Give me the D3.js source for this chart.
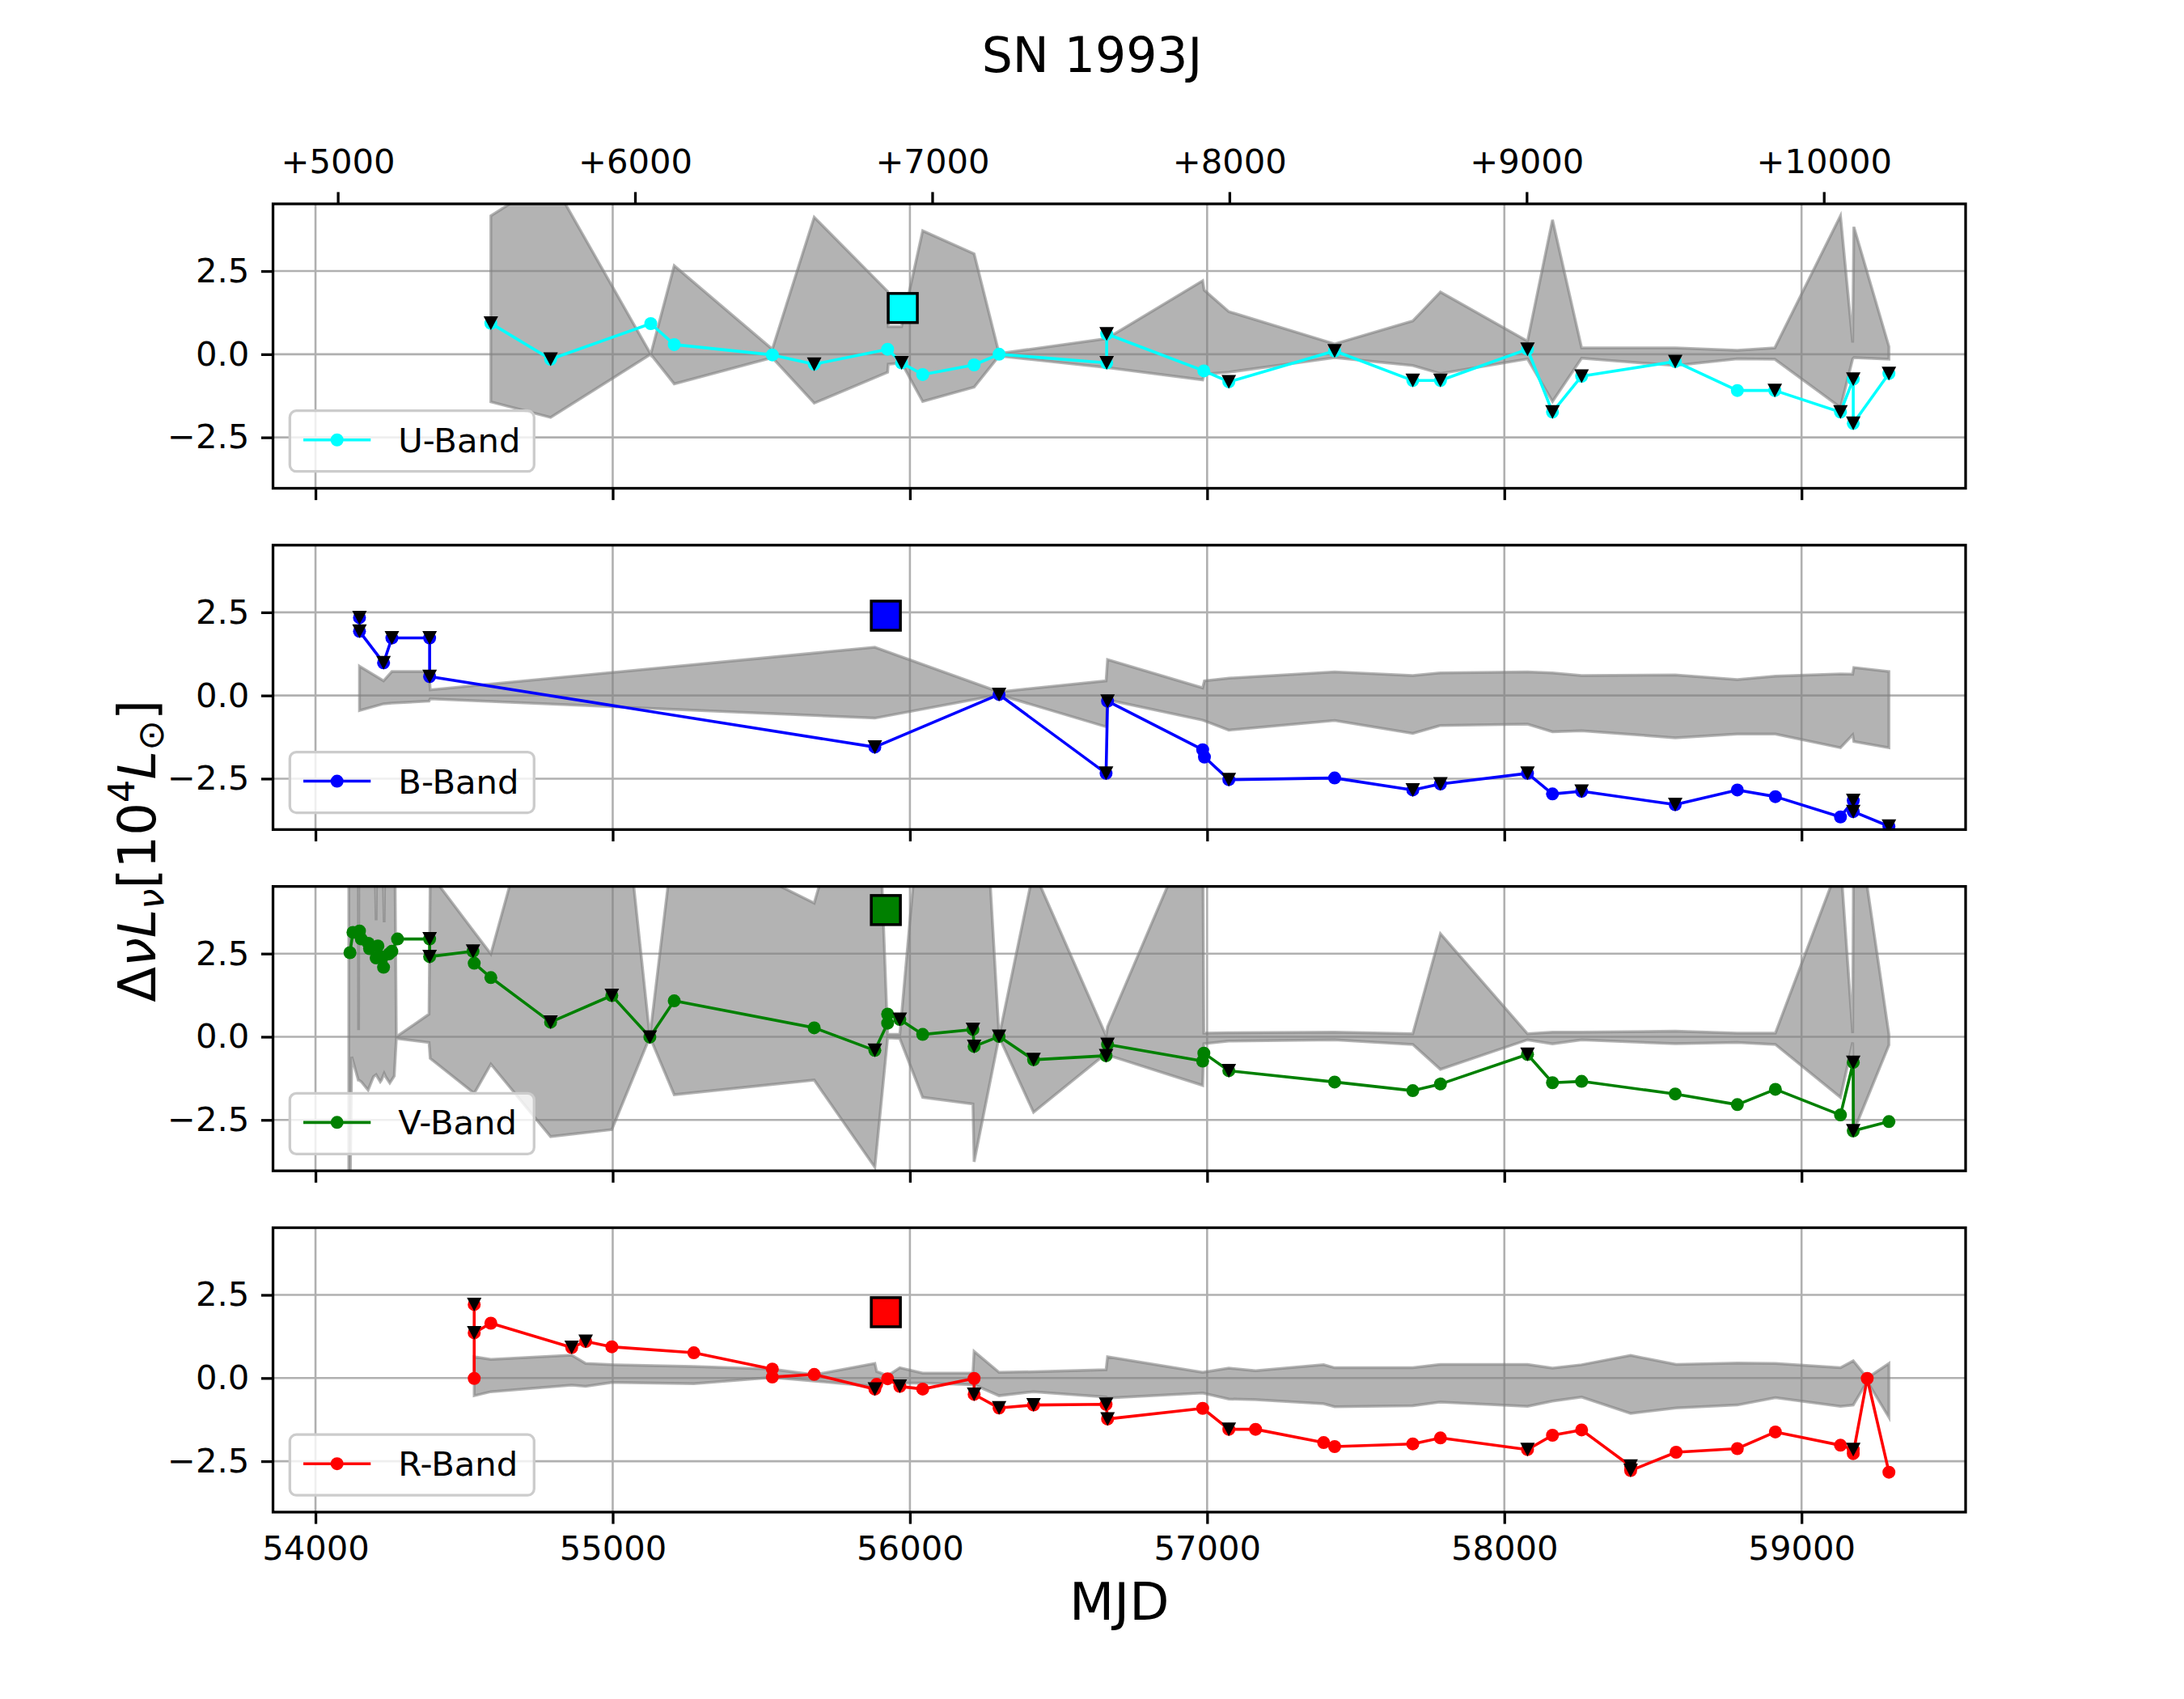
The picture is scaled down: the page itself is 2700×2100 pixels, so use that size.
<!DOCTYPE html>
<html><head><meta charset="utf-8">
<script src="https://cdn.jsdelivr.net/npm/d3@7"></script>
<style>body{margin:0;background:#fff}svg{display:block}text{font-family:"DejaVu Sans",sans-serif}</style>
</head><body>
<svg id="c" width="2700" height="2100"></svg>
<script>
// ---------------- data ----------------
const chartTitle = "SN 1993J";
const xLabel = "MJD";
const explosionMJD = 49075;
const xTickValues = [54000,55000,56000,57000,58000,59000];
const topTickValues = [5000,6000,7000,8000,9000,10000];
const yTickValues = [-2.5,0,2.5];
const xDomain = [53857,59552];
const yDomain = [-4.03,4.52];

const bandNames = ["U-Band","B-Band","V-Band","R-Band"];
const bandColors = ["#00ffff","#0000ff","#008000","#ff0000"];

const uMJD = [54590,54791,55128,55207,55537,55678,55925,55972,56043,56216,56300,56662,56662,56989,57073,57429,57692,57785,58078,58162,58260,58575,58784,58910,59131,59174,59174,59294];
const uVal = [0.93,-0.15,0.92,0.29,-0.02,-0.30,0.15,-0.26,-0.61,-0.32,0.00,-0.26,0.61,-0.50,-0.83,0.10,-0.79,-0.79,0.15,-1.74,-0.66,-0.22,-1.09,-1.09,-1.74,-0.75,-2.08,-0.58];
const uLim = [1,1,0,0,0,1,0,1,0,0,0,1,1,0,1,1,1,1,1,1,1,1,0,1,1,1,1,1];
const uBandMJD = [54590,54791,55128,55207,55537,55678,55925,55927,55972,56043,56216,56300,56662,56985,56990,57073,57429,57692,57785,58078,58162,58260,58575,58784,58910,59131,59172,59176,59294];
const uBandLo = [-1.43,-1.90,0,-0.89,-0.10,-1.47,-0.54,-0.30,-0.26,-1.42,-0.99,-0.05,-0.40,-0.77,-0.60,-0.54,-0.10,-0.34,-0.58,-0.14,-1.42,-0.12,-0.34,-0.14,-0.15,-1.60,-0.14,-0.10,-0.15];
const uBandHi = [4.16,5.30,0,2.66,0.15,4.12,1.89,0.83,0.83,3.71,3.02,0.02,0.47,2.21,1.93,1.28,0.31,1.00,1.87,0.39,4.04,0.19,0.19,0.12,0.19,4.16,0.35,3.83,0.23];

const bMJD = [54148,54148,54229,54257,54384,54384,55882,56300,56660,56665,56985,56991,57073,57429,57692,57785,58078,58162,58260,58575,58784,58912,59131,59174,59174,59294];
const bVal = [2.34,1.93,0.98,1.73,1.73,0.57,-1.55,0.03,-2.34,-0.17,-1.63,-1.85,-2.53,-2.48,-2.84,-2.66,-2.34,-2.96,-2.88,-3.28,-2.84,-3.04,-3.65,-3.16,-3.49,-3.93];
const bLim = [1,1,1,1,1,1,1,1,1,1,0,0,1,0,1,1,1,0,1,1,0,0,0,1,1,1];
const bBandMJD = [54148,54229,54257,54382,54386,55882,56300,56660,56665,56985,56991,57073,57429,57692,57785,58078,58162,58260,58575,58784,58912,59131,59172,59176,59294];
const bBandLo = [-0.45,-0.25,-0.23,-0.17,-0.10,-0.68,0.02,-0.94,-0.13,-0.74,-0.76,-1.04,-0.75,-1.14,-0.90,-0.86,-1.09,-1.06,-1.27,-1.16,-1.16,-1.57,-1.18,-1.38,-1.57];
const bBandHi = [0.88,0.44,0.72,0.72,0.17,1.45,0.11,0.44,1.08,0.23,0.44,0.52,0.71,0.60,0.68,0.71,0.68,0.60,0.62,0.48,0.58,0.65,0.64,0.84,0.72];

const vMJD = [54116,54126,54148,54154,54178,54182,54204,54210,54219,54229,54247,54257,54276,54384,54384,54530,54534,54590,54791,54997,55125,55207,55678,55882,55925,55925,55966,56043,56212,56216,56300,56416,56660,56665,56985,56989,57073,57429,57692,57785,58078,58162,58260,58575,58784,58912,59131,59174,59174,59294];
const vVal = [2.53,3.14,3.18,2.94,2.81,2.65,2.37,2.73,2.41,2.09,2.49,2.57,2.94,2.94,2.41,2.57,2.21,1.78,0.44,1.24,-0.01,1.08,0.27,-0.41,0.41,0.68,0.52,0.07,0.22,-0.29,0.01,-0.69,-0.57,-0.23,-0.73,-0.49,-1.02,-1.36,-1.62,-1.42,-0.53,-1.38,-1.34,-1.72,-2.04,-1.58,-2.35,-0.77,-2.83,-2.55];
const vLim = [0,0,0,0,0,0,0,0,0,0,0,0,0,1,1,1,0,0,1,1,1,0,0,1,0,0,1,0,1,1,1,1,1,1,0,0,1,0,0,0,1,0,0,0,0,0,0,1,1,0];
const vBandMJD = [54112,54122,54144,54145,54146,54154,54177,54195,54204,54208,54218,54222,54231,54236,54250,54265,54272,54382,54386,54534,54590,54791,54997,55125,55207,55678,55882,55925,55966,56043,56212,56216,56300,56416,56660,56665,56985,56989,57073,57429,57692,57785,58078,58162,58260,58575,58784,58912,59131,59172,59176,59294];
const vBandLo = [-8,-0.6,-1.3,-1.3,-1.3,-1.35,-1.6,-1.2,-1.14,-1.2,-1.35,-1.3,-1.1,-1.2,-1.39,-1.18,-0.05,-0.17,-0.65,-1.70,-0.82,-3.0,-2.79,0,-1.74,-1.30,-3.92,-0.03,-0.05,-1.82,-2.02,-3.76,0,-2.27,-0.50,-0.55,-1.46,-0.21,-0.13,-0.09,-0.23,-0.98,-0.09,-0.21,-0.09,-0.21,-0.17,-0.23,-1.82,-0.17,-2.83,-0.25];
const vBandHi = [8,8,8,0.2,8,8,8,8,3.5,8,8,8,3.44,8,8,8,0.0,0.68,4.9,3.15,2.49,9.0,10.7,0,6.1,4.02,10.3,0.07,0.07,7.8,9,13,0,5,0.03,0.3,7,0.11,0.12,0.14,0.09,3.1,0.09,0.14,0.14,0.17,0.11,0.11,5.3,0.11,7.25,0.07];

const rMJD = [54534,54534,54534,54590,54862,54909,54997,55273,55537,55537,55678,55882,55888,55925,55966,56043,56216,56216,56300,56416,56660,56665,56985,57073,57163,57392,57429,57692,57785,58078,58162,58260,58425,58425,58578,58784,58912,59131,59174,59174,59221,59294];
const rVal = [2.21,-0.01,1.36,1.65,0.92,1.10,0.94,0.76,0.27,0.03,0.11,-0.33,-0.19,-0.02,-0.25,-0.33,-0.01,-0.49,-0.90,-0.81,-0.79,-1.23,-0.91,-1.54,-1.54,-1.94,-2.06,-1.98,-1.80,-2.15,-1.72,-1.56,-2.65,-2.78,-2.23,-2.12,-1.62,-2.02,-2.15,-2.27,-0.01,-2.83];
const rLim = [1,0,1,0,1,1,0,0,0,0,0,1,0,0,1,0,0,1,1,1,1,1,0,1,0,0,0,0,0,1,0,0,1,1,0,0,0,0,1,0,0,0];
const rBandMJD = [54534,54590,54862,54909,54997,55273,55537,55678,55882,55888,55925,55966,56043,56212,56216,56300,56416,56660,56665,56985,57073,57163,57392,57429,57692,57785,58078,58162,58260,58425,58578,58784,58912,59131,59174,59221,59294];
const rBandLo = [-0.53,-0.41,-0.21,-0.25,-0.13,-0.17,0.02,-0.09,-0.25,-0.20,-0.10,-0.15,-0.15,-0.20,-0.20,-0.53,-0.41,-0.57,-0.60,-0.45,-0.63,-0.65,-0.77,-0.86,-0.83,-0.72,-0.85,-0.69,-0.57,-1.06,-0.90,-0.81,-0.59,-0.85,-0.81,-0.10,-1.18];
const rBandHi = [0.64,0.56,0.69,0.44,0.40,0.35,0.27,0.10,0.44,0.20,0.07,0.31,0.15,0.15,0.80,0.17,0.19,0.25,0.64,0.17,0.30,0.22,0.40,0.31,0.31,0.41,0.41,0.30,0.40,0.68,0.41,0.45,0.44,0.31,0.52,0.00,0.44];

const squareMJD = [55976,55919,55919,55919];
const squareVal = [1.39,2.40,3.81,1.98];

// ---------------- layout ----------------
const panels = [
  {mjd:uMJD,val:uVal,lim:uLim,bm:uBandMJD,bl:uBandLo,bh:uBandHi},
  {mjd:bMJD,val:bVal,lim:bLim,bm:bBandMJD,bl:bBandLo,bh:bBandHi},
  {mjd:vMJD,val:vVal,lim:vLim,bm:vBandMJD,bl:vBandLo,bh:vBandHi},
  {mjd:rMJD,val:rVal,lim:rLim,bm:rBandMJD,bl:rBandLo,bh:rBandHi}
].map((p,i)=>Object.assign(p,{name:bandNames[i],color:bandColors[i],sq:[squareMJD[i],squareVal[i]]}));

const L=337.5,R=2430,T=252,B=1869;
const n=panels.length, hs=0.2;
const ph=(B-T)/(n+(n-1)*hs), gap=ph*hs;
const FS=41.7, TICK=14.6, LW=3.3;
const svg=d3.select("#c");
const defs=svg.append("defs");
const x=d3.scaleLinear().domain(xDomain).range([L,R]);
const fmtY=d=> d===0?"0.0":(d<0?"\u2212":"")+Math.abs(d).toFixed(1);

svg.append("text").attr("x",1350).attr("y",89).attr("text-anchor","middle")
  .attr("font-size",60).text(chartTitle);

panels.forEach((p,i)=>{
  const top=T+i*(ph+gap), bot=top+ph;
  const y=d3.scaleLinear().domain(yDomain).range([bot,top]);
  const g=svg.append("g");
  const cid="clip"+i;
  defs.append("clipPath").attr("id",cid).append("rect").attr("x",L).attr("y",top).attr("width",R-L).attr("height",ph);
  const cg=g.append("g").attr("clip-path",`url(#${cid})`);
  // grid
  cg.selectAll(".gx").data(xTickValues).join("line").attr("x1",d=>x(d)).attr("x2",d=>x(d)).attr("y1",top).attr("y2",bot)
    .attr("stroke","#b0b0b0").attr("stroke-width",2.6);
  cg.selectAll(".gy").data(yTickValues).join("line").attr("x1",L).attr("x2",R).attr("y1",d=>y(d)).attr("y2",d=>y(d))
    .attr("stroke","#b0b0b0").attr("stroke-width",2.6);
  // band
  const band=p.bm.map((m,k)=>({m,lo:p.bl[k],hi:p.bh[k]}));
  cg.append("path").datum(band)
    .attr("d",d3.area().x(d=>x(d.m)).y0(d=>y(d.lo)).y1(d=>y(d.hi)))
    .attr("fill","rgb(128,128,128)").attr("fill-opacity",0.6)
    .attr("stroke","rgb(128,128,128)").attr("stroke-opacity",0.6).attr("stroke-width",3.5).attr("stroke-linejoin","miter");
  // series
  const pts=p.mjd.map((m,k)=>({m,v:p.val[k],lim:p.lim[k]}));
  cg.append("path").datum(pts).attr("d",d3.line().x(d=>x(d.m)).y(d=>y(d.v)))
    .attr("fill","none").attr("stroke",p.color).attr("stroke-width",3.6).attr("stroke-linejoin","round");
  cg.selectAll(".pt").data(pts).join("circle").attr("cx",d=>x(d.m)).attr("cy",d=>y(d.v)).attr("r",8)
    .attr("fill",p.color);
  const tri="M-9,-8.5L9,-8.5L0,8.5Z";
  cg.selectAll(".lim").data(pts.filter(d=>d.lim)).join("path")
    .attr("d",tri).attr("transform",d=>`translate(${x(d.m)},${y(d.v)})`).attr("fill","#000");
  // square
  cg.append("rect").attr("x",x(p.sq[0])-18).attr("y",y(p.sq[1])-18).attr("width",36).attr("height",36)
    .attr("fill",p.color).attr("stroke","#000").attr("stroke-width",3.5);
  // legend
  const lg=g.append("g").attr("transform",`translate(${L+20.8},${bot-20.8-75})`);
  lg.append("rect").attr("width",302).attr("height",75).attr("rx",8).attr("ry",8)
    .attr("fill","#fff").attr("fill-opacity",0.8).attr("stroke","#cccccc").attr("stroke-width",3.3);
  lg.append("line").attr("x1",16.7).attr("x2",100).attr("y1",36).attr("y2",36).attr("stroke",p.color).attr("stroke-width",3.6);
  lg.append("circle").attr("cx",58.4).attr("cy",36).attr("r",8).attr("fill",p.color);
  lg.append("text").attr("x",134).attr("y",51).attr("font-size",FS).text(p.name);
  // axes
  const ax=g.append("g").attr("transform",`translate(${L},0)`)
    .call(d3.axisLeft(y).tickValues(yTickValues).tickFormat(fmtY).tickSize(TICK).tickPadding(TICK).tickSizeOuter(0));
  const bx=g.append("g").attr("transform",`translate(0,${bot})`)
    .call(d3.axisBottom(x).tickValues(xTickValues).tickFormat(i===n-1?d3.format("d"):()=> "").tickSize(TICK).tickPadding(TICK).tickSizeOuter(0));
  const axes=[ax,bx];
  if(i===0){
    const tx=g.append("g").attr("transform",`translate(0,${top})`)
      .call(d3.axisTop(d3.scaleLinear().domain(xDomain.map(v=>v-explosionMJD)).range([L,R]))
        .tickValues(topTickValues).tickFormat(d=>"+"+d).tickSize(TICK).tickPadding(TICK).tickSizeOuter(0));
    tx.selectAll("text").attr("dy","-0.22em");
    axes.push(tx);
  }
  axes.forEach(a=>{
    a.attr("font-size",FS).attr("font-family","DejaVu Sans");
    a.select(".domain").remove();
    a.selectAll(".tick line").attr("stroke","#000").attr("stroke-width",LW);
    a.selectAll(".tick text").attr("fill","#000");
  });
  // spines
  g.append("rect").attr("x",L).attr("y",top).attr("width",R-L).attr("height",ph)
    .attr("fill","none").attr("stroke","#000").attr("stroke-width",LW);
});

// x label
svg.append("text").attr("x",(L+R)/2).attr("y",2002).attr("text-anchor","middle").attr("font-size",64).text(xLabel);
// y label (math-like)
const yl=svg.append("text").attr("transform","translate(192,1052) rotate(-90)").attr("text-anchor","middle").attr("font-size",64);
yl.append("tspan").text("\u0394");
yl.append("tspan").attr("font-style","italic").text("\u03bdL");
yl.append("tspan").attr("font-style","italic").attr("font-size",45).attr("dy",10).text("\u03bd");
yl.append("tspan").attr("dy",-10).text("[10");
yl.append("tspan").attr("font-size",45).attr("dy",-26).text("4");
yl.append("tspan").attr("font-style","italic").attr("dy",26).text("L");
yl.append("tspan").attr("font-size",45).attr("dy",10).text("\u2299");
yl.append("tspan").attr("dy",-10).text("]");
</script>
</body></html>
